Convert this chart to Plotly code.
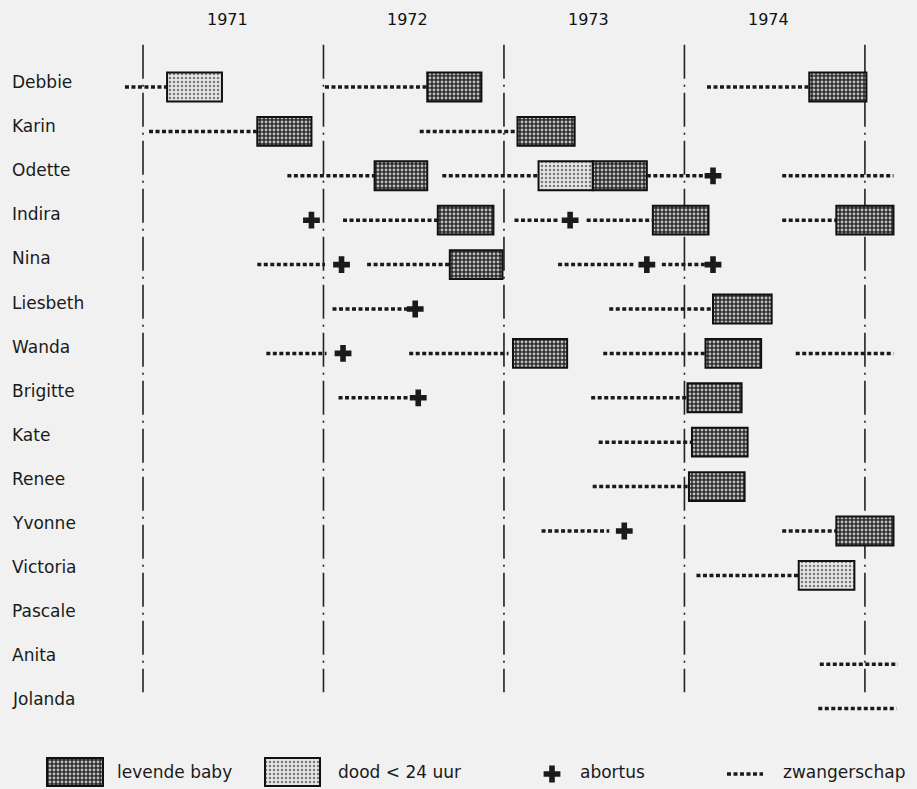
import plotly.graph_objects as go

# ---------------- data ----------------
names = ["Debbie", "Karin", "Odette", "Indira", "Nina", "Liesbeth", "Wanda",
         "Brigitte", "Kate", "Renee", "Yvonne", "Victoria", "Pascale", "Anita", "Jolanda"]
years = [1971, 1972, 1973, 1974]

# pregnancies (zwangerschap), months since 1 Jan 1971
preg_name = ["Debbie", "Debbie", "Debbie",
             "Karin", "Karin",
             "Odette", "Odette", "Odette", "Odette",
             "Indira", "Indira", "Indira", "Indira",
             "Nina", "Nina", "Nina", "Nina",
             "Liesbeth", "Liesbeth",
             "Wanda", "Wanda", "Wanda", "Wanda",
             "Brigitte", "Brigitte",
             "Kate", "Renee",
             "Yvonne", "Yvonne",
             "Victoria", "Anita", "Jolanda"]
preg_start = [-1.2, 12.1, 37.5,
              0.4, 18.4,
              9.6, 19.9, 33.5, 42.5,
              13.3, 24.7, 29.5, 42.5,
              7.6, 14.9, 27.6, 34.5,
              12.6, 31.0,
              8.2, 17.7, 30.6, 43.4,
              13.0, 29.8,
              30.3, 29.9,
              26.5, 42.5,
              36.8, 45.0, 44.9]
preg_end = [1.6, 18.9, 44.3,
            7.6, 24.9,
            15.4, 26.3, 37.5, 49.9,
            19.6, 27.6, 33.9, 46.1,
            12.1, 20.4, 32.6, 37.5,
            17.6, 37.9,
            12.2, 24.3, 37.4, 49.9,
            17.6, 36.2,
            36.5, 36.3,
            31.0, 46.1,
            43.6, 50.2, 50.1]

# births: levende baby / dood < 24 uur
birth_name = ["Debbie", "Debbie", "Debbie", "Karin", "Karin",
              "Odette", "Odette", "Odette", "Indira", "Indira", "Indira",
              "Nina", "Liesbeth", "Wanda", "Wanda", "Brigitte", "Kate",
              "Renee", "Yvonne", "Victoria"]
birth_start = [1.6, 18.9, 44.3, 7.6, 24.9,
               15.4, 26.3, 29.9, 19.6, 33.9, 46.1,
               20.4, 37.9, 24.6, 37.4, 36.2, 36.5,
               36.3, 46.1, 43.6]
birth_end = [5.25, 22.5, 48.1, 11.2, 28.7,
             18.9, 29.9, 33.5, 23.3, 37.6, 49.9,
             23.9, 41.8, 28.2, 41.1, 39.8, 40.2,
             40.0, 49.9, 47.3]
birth_kind = ["dood", "levend", "levend", "levend", "levend",
              "levend", "dood", "levend", "levend", "levend", "levend",
              "levend", "levend", "levend", "levend", "levend", "levend",
              "levend", "levend", "dood"]

# abortions
abort_name = ["Odette", "Indira", "Indira", "Nina", "Nina", "Nina",
              "Liesbeth", "Wanda", "Brigitte", "Yvonne"]
abort_month = [37.9, 11.2, 28.4, 13.2, 33.5, 37.9, 18.1, 13.3, 18.3, 32.0]

legend_labels = ["levende baby", "dood &lt; 24 uur", "abortus", "zwangerschap"]

# ---------------- styles ----------------
W, H = 917, 789
BG = "#f1f1f1"
INK = "#1a1a1a"
FONT = "DejaVu Sans"
row_of = {n: i for i, n in enumerate(names)}

styles = {
    "levend": dict(color="#3a3a3a",
                   pattern=dict(shape=".", bgcolor="#2a2a2a", fgcolor="#bdbdbd",
                                size=4, solidity=0.42, fillmode="replace")),
    "dood": dict(color="#e4e4e4",
                 pattern=dict(shape=".", bgcolor="#e6e6e6", fgcolor="#7a7a7a",
                              size=4, solidity=0.3, fillmode="replace")),
}
DOT = "4px,2.5px"

fig = go.Figure()

# pregnancies
px_, py_ = [], []
for n, s, e in zip(preg_name, preg_start, preg_end):
    px_ += [s, e, None]
    py_ += [row_of[n], row_of[n], None]
fig.add_trace(go.Scatter(x=px_, y=py_, mode="lines",
                         line=dict(color=INK, width=3.5, dash=DOT),
                         hoverinfo="skip", showlegend=False))

# births
for kind in ["levend", "dood"]:
    idx = [i for i, k in enumerate(birth_kind) if k == kind]
    fig.add_trace(go.Bar(
        orientation="h",
        y=[row_of[birth_name[i]] for i in idx],
        base=[birth_start[i] for i in idx],
        x=[birth_end[i] - birth_start[i] for i in idx],
        width=0.65,
        marker=dict(color=styles[kind]["color"], pattern=styles[kind]["pattern"],
                    line=dict(color="#111", width=2)),
        showlegend=False, hoverinfo="skip"))

# abortions
fig.add_trace(go.Scatter(x=abort_month, y=[row_of[n] for n in abort_name],
                         mode="markers",
                         marker=dict(symbol="cross", size=14, color=INK),
                         showlegend=False, hoverinfo="skip"))

# year boundary lines (dash-dot)
boundaries = [(y - years[0]) * 12 for y in years] + [(years[-1] + 1 - years[0]) * 12]
for b in boundaries:
    fig.add_shape(type="line", xref="x", yref="y", x0=b, x1=b, y0=-0.95, y1=13.63,
                  line=dict(color="#222", width=1.6, dash="34px,6px,2px,6px"),
                  layer="below")

# year labels
for y in years:
    fig.add_annotation(x=(y - years[0]) * 12 + 5.6, y=1 - 19 / H, xref="x", yref="paper",
                       text=str(y), showarrow=False, yanchor="middle",
                       font=dict(family=FONT, size=16, color="#111"))

# names (slightly above their row of marks)
for i, n in enumerate(names):
    fig.add_annotation(x=10, y=i - 0.11 - 0.007 * i, xref="x2", yref="y", text=n,
                       xanchor="left", yanchor="middle", showarrow=False,
                       font=dict(family=FONT, size=17, color=INK))

# ---------------- legend (pixel-space axes) ----------------
LY = 772
fig.add_trace(go.Bar(orientation="h", y=[LY], base=[47], x=[56], width=28,
                     xaxis="x2", yaxis="y2",
                     marker=dict(color=styles["levend"]["color"],
                                 pattern=styles["levend"]["pattern"],
                                 line=dict(color="#111", width=2)),
                     showlegend=False, hoverinfo="skip"))
fig.add_trace(go.Bar(orientation="h", y=[LY], base=[265], x=[55], width=28,
                     xaxis="x2", yaxis="y2",
                     marker=dict(color=styles["dood"]["color"],
                                 pattern=styles["dood"]["pattern"],
                                 line=dict(color="#111", width=2)),
                     showlegend=False, hoverinfo="skip"))
fig.add_trace(go.Scatter(x=[552], y=[LY + 2], xaxis="x2", yaxis="y2", mode="markers",
                         marker=dict(symbol="cross", size=14, color=INK),
                         showlegend=False, hoverinfo="skip"))
fig.add_trace(go.Scatter(x=[727, 763], y=[LY + 2, LY + 2], xaxis="x2", yaxis="y2",
                         mode="lines", line=dict(color=INK, width=3.5, dash=DOT),
                         showlegend=False, hoverinfo="skip"))
for xpos, lab in zip([115, 336, 578, 781], legend_labels):
    fig.add_annotation(x=xpos, y=LY, xref="x2", yref="y2", text=lab,
                       xanchor="left", yanchor="middle", showarrow=False,
                       font=dict(family=FONT, size=17, color=INK))

fig.update_layout(
    width=W, height=H,
    margin=dict(l=0, r=0, t=0, b=0),
    paper_bgcolor=BG, plot_bgcolor=BG,
    barmode="overlay",
    showlegend=False,
    xaxis=dict(range=[-9.508, 51.463], visible=False, fixedrange=True),
    yaxis=dict(range=[15.811, -1.959], visible=False, fixedrange=True),
    xaxis2=dict(range=[0, W], visible=False, overlaying="x", anchor="y2", fixedrange=True),
    yaxis2=dict(range=[H, 0], visible=False, overlaying="y", anchor="x2", fixedrange=True),
)

fig.write_html(
    "out.html",
    config={"displayModeBar": False},
    post_script="document.body.style.margin='0';document.body.style.overflow='hidden';"
                "document.body.style.background='" + BG + "';",
)
